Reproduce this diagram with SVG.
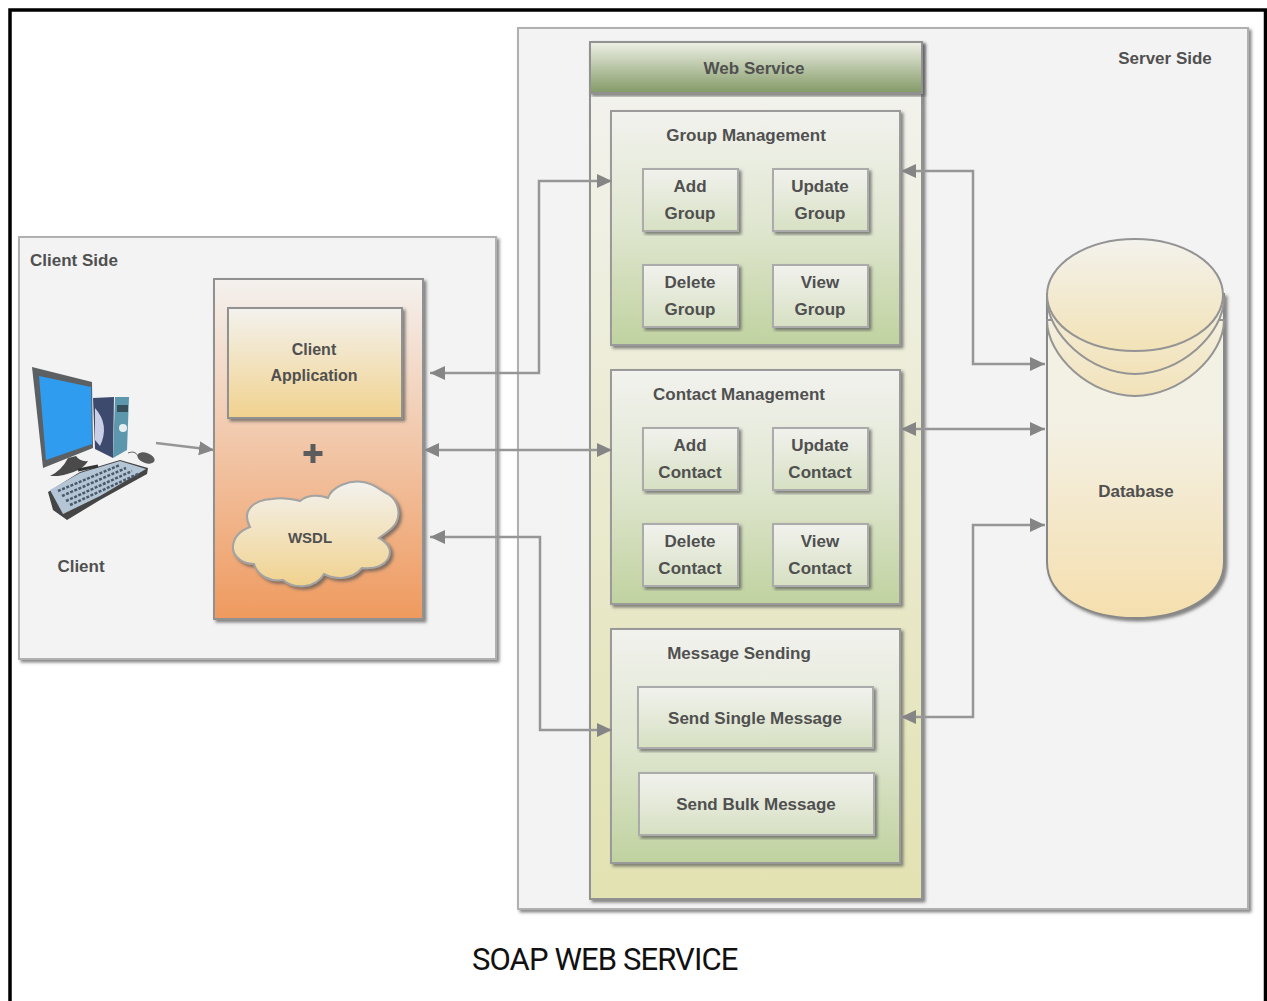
<svg xmlns="http://www.w3.org/2000/svg" width="1267" height="1001" viewBox="0 0 1267 1001">
<style>
text{font-family:"Liberation Sans",Arial,sans-serif;font-weight:700;font-size:17px;fill:#505050;text-anchor:middle}
.title{font-family:Roboto,"Liberation Sans",sans-serif;font-weight:400;font-size:31px;fill:#111;letter-spacing:-.9px;text-anchor:start}
.panel{fill:#f3f3f3;stroke:#b0b0b0;stroke-width:2;filter:url(#sh)}
.box{stroke:#919191;stroke-width:2;filter:url(#sh)}
.item{fill:url(#gItem);stroke:#ababab;stroke-width:2;filter:url(#sh)}
.mod{fill:url(#gMod);stroke:#9a9a9a;stroke-width:2;filter:url(#sh)}
.conn{fill:none;stroke:#969696;stroke-width:2.500;marker-end:url(#arr)}
.both{marker-start:url(#arrS)}
.disk{stroke:#949494;stroke-width:2}
</style>
<defs>
<filter id="sh" x="-5%" y="-5%" width="112%" height="112%"><feDropShadow dx="2.5" dy="2.5" stdDeviation="1.6" flood-color="#555" flood-opacity=".7"/></filter>
<linearGradient id="gItem" x1="0" y1="0" x2="0" y2="1"><stop offset="0" stop-color="#f2f2ee"/><stop offset="1" stop-color="#d6e0c2"/></linearGradient>
<linearGradient id="gMod" x1="0" y1="0" x2="0" y2="1"><stop offset="0" stop-color="#f2f2ee"/><stop offset=".5" stop-color="#dfe6cf"/><stop offset="1" stop-color="#c0d2a0"/></linearGradient>
<linearGradient id="gHead" x1="0" y1="0" x2="0" y2="1"><stop offset="0" stop-color="#eef0e6"/><stop offset="1" stop-color="#839a66"/></linearGradient>
<linearGradient id="gWs" x1="0" y1="0" x2="0" y2="1"><stop offset="0" stop-color="#f3f3f0"/><stop offset="1" stop-color="#e2e2b2"/></linearGradient>
<linearGradient id="gOrange" x1="0" y1="0" x2="0" y2="1"><stop offset="0" stop-color="#f4f1ee"/><stop offset="1" stop-color="#ef9a5f"/></linearGradient>
<linearGradient id="gTan" x1="0" y1="0" x2="0" y2="1"><stop offset="0" stop-color="#f3f2ee"/><stop offset="1" stop-color="#f1d28e"/></linearGradient>
<linearGradient id="gDisk" x1="0" y1="0" x2="0" y2="1"><stop offset="0" stop-color="#f3f2ec"/><stop offset="1" stop-color="#f2e2b6"/></linearGradient>
<linearGradient id="gBand" x1="0" y1="0" x2="0" y2="1"><stop offset="0" stop-color="#f3f0e0"/><stop offset="1" stop-color="#f2e2b8"/></linearGradient>
<linearGradient id="gDb" x1="0" y1="0" x2="0" y2="1"><stop offset="0" stop-color="#f3f0e4"/><stop offset=".4" stop-color="#f3f0e4"/><stop offset="1" stop-color="#f5dfae"/></linearGradient>
<marker id="arr" markerWidth="16" markerHeight="16" refX="15" refY="8" orient="auto" markerUnits="userSpaceOnUse"><path d="M0 1L15 8L0 15z" fill="#858585"/></marker>
<marker id="arrS" markerWidth="16" markerHeight="16" refX="0" refY="8" orient="auto" markerUnits="userSpaceOnUse"><path d="M15 1L0 8L15 15z" fill="#858585"/></marker>
</defs>
<rect width="1267" height="1001" fill="#fff"/>
<path d="M10 1001V10H1265.500V1001" fill="none" stroke="#000" stroke-width="3.500"/>

<g id="server-side"><rect class="panel" x="518" y="28" width="730" height="881"/><text x="1165" y="64">Server Side</text></g>
<g id="client-side"><rect class="panel" x="19" y="237" width="477" height="422"/><text x="74" y="266">Client Side</text></g>

<g id="client">
<g>
<path d="M93 398L114 397L113 458L95 449z" fill="#3d4a6d"/>
<path d="M95 408Q110 425 100 446L95 440z" fill="#c9cfe6"/>
<path d="M115 397H129L127 450L113 458z" fill="#5c97ad"/>
<rect x="117" y="405" width="11" height="7" fill="#35505c"/>
<circle cx="123" cy="428" r="4" fill="#e6eef2"/>
<path d="M32 367L92 382L93 448L43 468z" fill="#5d6063"/>
<path d="M39 376L91 387L92 444L46 460z" fill="#2f9cf0"/>
<path d="M50 476Q62 470 68 458L76 456Q80 462 88 461Q82 472 58 476z" fill="#4a4a4a"/>
<path d="M48 492L80 472L120 460L148 468L147 474L100 500L67 520L53 510z" fill="#454545"/>
<path d="M50 490L80 473L120 461L146 469L100 496L63 514z" fill="#b4c6d6"/>
<path d="M58 491L120 465M62 496L126 468M66 501L132 471M70 505L138 474" stroke="#4b5a6a" stroke-width="2.500" stroke-dasharray="3 1.500" fill="none"/>
<path d="M78 470L98 466" stroke="#333" stroke-width="3"/>
<ellipse cx="146" cy="458" rx="9" ry="5" fill="#5a5a5a" transform="rotate(20 146 458)"/>
<path d="M128 453Q135 450 138 456" fill="none" stroke="#666"/>
</g>
<text x="81" y="572">Client</text>
</g>

<g id="client-stack">
<rect class="box" x="214" y="279" width="209" height="340" fill="url(#gOrange)"/>
<path d="M310.500 444h5v7h7v5h-7v7h-5v-7h-7v-5h7z" fill="#5c5c5c"/>
</g>
<g id="client-application"><rect class="box" x="228" y="308" width="174" height="110" fill="url(#gTan)"/><text x="314" y="355" style="font-size:16px">Client</text><text x="314" y="381" style="font-size:16px">Application</text></g>
<g id="wsdl">
<path class="box" style="stroke:#a3a3a3" fill="url(#gTan)" d="M250 527C241 510 254 500 272 499C283 497 292 499 300 501C308 494 320 495 328 498C332 486 350 480 363 482C376 484 382 492 388 494C400 502 400 516 396 523C392 530 384 534 379 538C390 544 392 552 388 559C382 568 372 569 362 568C352 580 335 580 324 574C316 588 295 590 283 580C270 582 258 576 254 564C240 564 232 554 233 546C234 536 242 530 250 527z"/>
<text x="310" y="543" style="font-size:15px">WSDL</text>
</g>

<g id="web-service">
<rect class="box" x="590" y="42" width="332" height="857" fill="url(#gWs)"/>
<rect class="box" x="590" y="42" width="332" height="51" fill="url(#gHead)"/>
<text x="754" y="74">Web Service</text>
</g>

<g id="group-management"><rect class="mod" x="611" y="111" width="289" height="234"/><text x="746" y="141">Group Management</text></g>
<g id="add-group"><rect class="item" x="643" y="169" width="95" height="62"/><text x="690" y="192">Add</text><text x="690" y="219">Group</text></g>
<g id="update-group"><rect class="item" x="773" y="169" width="95" height="62"/><text x="820" y="192">Update</text><text x="820" y="219">Group</text></g>
<g id="delete-group"><rect class="item" x="643" y="265" width="95" height="62"/><text x="690" y="288">Delete</text><text x="690" y="315">Group</text></g>
<g id="view-group"><rect class="item" x="773" y="265" width="95" height="62"/><text x="820" y="288">View</text><text x="820" y="315">Group</text></g>

<g id="contact-management"><rect class="mod" x="611" y="370" width="289" height="234"/><text x="739" y="400">Contact Management</text></g>
<g id="add-contact"><rect class="item" x="643" y="428" width="95" height="62"/><text x="690" y="451">Add</text><text x="690" y="478">Contact</text></g>
<g id="update-contact"><rect class="item" x="773" y="428" width="95" height="62"/><text x="820" y="451">Update</text><text x="820" y="478">Contact</text></g>
<g id="delete-contact"><rect class="item" x="643" y="524" width="95" height="62"/><text x="690" y="547">Delete</text><text x="690" y="574">Contact</text></g>
<g id="view-contact"><rect class="item" x="773" y="524" width="95" height="62"/><text x="820" y="547">View</text><text x="820" y="574">Contact</text></g>

<g id="message-sending"><rect class="mod" x="611" y="629" width="289" height="234"/><text x="739" y="659">Message Sending</text></g>
<g id="send-single-message"><rect class="item" x="638" y="687" width="235" height="61"/><text x="755" y="724">Send Single Message</text></g>
<g id="send-bulk-message"><rect class="item" x="639" y="773" width="235" height="62"/><text x="756" y="810">Send Bulk Message</text></g>

<g id="database">
<path d="M1047 294V562C1047 598 1090 618 1135 618C1180 618 1224 598 1224 562V294z" fill="url(#gDb)" stroke="#888" stroke-width="2" filter="url(#sh)"/>
<path class="disk" d="M1047 320C1047 356 1090 396 1135 396C1180 396 1224 356 1224 320z" fill="url(#gBand)"/>
<path class="disk" d="M1047 298C1047 334 1090 374 1135 374C1180 374 1224 334 1224 298z" fill="url(#gBand)"/>
<ellipse class="disk" cx="1135" cy="295" rx="88" ry="56" fill="url(#gDisk)"/>
<text x="1136" y="497">Database</text>
</g>

<g id="connectors">
<path class="conn" d="M156 443L214 450"/>
<path class="conn both" d="M430 373H539V181H612"/>
<path class="conn both" d="M424 450H612"/>
<path class="conn both" d="M430 537H540V730H612"/>
<path class="conn both" d="M901 171H973V364H1045"/>
<path class="conn both" d="M901 429H1045"/>
<path class="conn both" d="M901 717H973V525H1045"/>
</g>

<text class="title" x="472" y="970">SOAP WEB SERVICE</text>
</svg>
